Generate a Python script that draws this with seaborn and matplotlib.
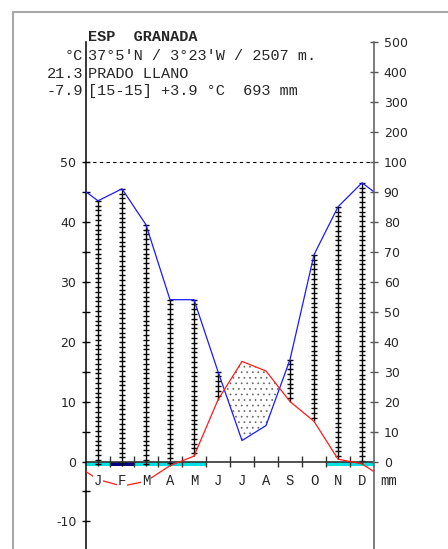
import numpy as np
import pandas as pd
import matplotlib
matplotlib.use("Agg")
import matplotlib.pyplot as plt
from matplotlib.lines import Line2D
import seaborn as sns

# Monthly climate data (Walter-Lieth diagram, Prado Llano)
months = ["J", "F", "M", "A", "M", "J", "J", "A", "S", "O", "N", "D"]
temp = [-3.0, -4.1, -3.3, -0.7, 0.9, 10.3, 16.7, 15.1, 10.0, 6.7, 0.4, -0.4]
prec = [87, 91, 79, 54, 54, 30, 7, 12, 34, 69, 85, 93]
frost_probable = [1, 1, 1, 1, 1, 0, 0, 0, 0, 0, 1, 1]
frost_certain = [0, 1, 0, 0, 0, 0, 0, 0, 0, 0, 0, 0]
left_ticks = [-10, 0, 10, 20, 30, 40, 50]
right_ticks = [0, 10, 20, 30, 40, 50, 60, 70, 80, 90, 100, 200, 300, 400, 500]

title = "ESP  GRANADA"
info_lines = ["37°5'N / 3°23'W / 2507 m.", "PRADO LLANO", "[15-15] +3.9 °C  693 mm"]
left_col = ["°C", "21.3", "-7.9"]


def mm_to_axis(mm):
    # 2 mm per degree up to 100 mm, compressed 1/10 above
    return mm / 2 if mm <= 100 else 50 + (mm - 100) / 20


sns.set_style("white")
plt.rcParams['font.family'] = ['DejaVu Sans']
plt.rcParams['hatch.linewidth'] = 0.5

W, H = 448, 549
fig = plt.figure(figsize=(W / 100, H / 100), dpi=100)
ax = fig.add_axes([86 / W, 0, 288 / W, (H - 42) / H])
ax.set_xlim(0, 12)
ax.set_ylim(-14.6, 70)

# data with wrap-around ends
xm = np.arange(12) + 0.5
t_arr = np.array(temp)
p_arr = np.array([mm_to_axis(v) for v in prec])
df = pd.DataFrame({
    "x": np.concatenate([[0], xm, [12]]),
    "temp": np.concatenate([[(t_arr[-1] + t_arr[0]) / 2], t_arr, [(t_arr[-1] + t_arr[0]) / 2]]),
    "prec": np.concatenate([[(p_arr[-1] + p_arr[0]) / 2], p_arr, [(p_arr[-1] + p_arr[0]) / 2]]),
})

# frost bars under zero line
for i in range(12):
    if frost_probable[i]:
        ax.bar(xm[i], -0.8, bottom=0, width=1.0, color="#00e0e0", linewidth=0, zorder=1)
    if frost_certain[i]:
        ax.bar(xm[i], -0.8, bottom=0, width=1.0, color="#000080", linewidth=0, zorder=1.1)

# arid period stippling
ax.fill_between(df["x"], df["prec"], df["temp"], where=df["temp"] > df["prec"],
                interpolate=True, facecolor="none", edgecolor="#666666",
                hatch="...", linewidth=0, zorder=1.5)

# humid period: vertical lines with crossbars
for i in range(12):
    if p_arr[i] > t_arr[i]:
        top = p_arr[i]
        bot = max(t_arr[i], -0.8)
        ax.vlines(xm[i], bot, top, color="black", lw=1.0, zorder=2)
        ys = np.arange(top, bot, -0.8)
        ax.plot([xm[i]] * len(ys), ys, ls="none", marker="_", ms=5, mew=1.0,
                color="black", zorder=2)

# reference lines
ax.axhline(50, color="black", lw=0.8, ls=(0, (3, 3)), zorder=1)
ax.axhline(0, color="#333333", lw=1.2, zorder=2.5)
ax.vlines(np.arange(1, 12), -0.9, 0.9, color="#333333", lw=1.0, zorder=2.5)

sns.lineplot(data=df, x="x", y="prec", color="#1a1aff", lw=0.9, ax=ax,
             estimator=None, sort=False, zorder=3)
sns.lineplot(data=df, x="x", y="temp", color="#ff1a1a", lw=0.9, ax=ax,
             estimator=None, sort=False, zorder=3)

# month labels
for i, m in enumerate(months):
    ax.text(xm[i], -3.95, m, ha="center", va="baseline", family="Liberation Mono",
            size=10, zorder=5,
            bbox=dict(facecolor="white", edgecolor="none", pad=0.5))
ax.text(12.25, -3.95, "mm", ha="left", va="baseline", family="Liberation Mono",
        size=10, clip_on=False)

# left axis
ax.set_xlabel("")
ax.set_ylabel("")
ax.set_xticks([])
ax.set_yticks(left_ticks)
ax.set_yticklabels([str(v) for v in left_ticks])
ax.set_yticks([-5, 5, 15, 25, 35, 45], minor=True)
ax.tick_params(axis="y", which="both", left=True, direction="inout", length=6,
               width=1.0, color="black", labelsize=9, pad=4)
for s in ["top", "bottom", "right"]:
    ax.spines[s].set_visible(False)
ax.spines["left"].set_color("black")
ax.spines["left"].set_linewidth(1.1)

# right axis in mm
ax2 = ax.twinx()
ax2.set_ylim(ax.get_ylim())
ax2.set_yticks([mm_to_axis(v) for v in right_ticks])
ax2.set_yticklabels([str(v) for v in right_ticks])
ax2.tick_params(axis="y", right=True, direction="inout", length=6, width=1.0,
                color="#555555", labelsize=9, pad=4)
for s in ["top", "bottom", "left"]:
    ax2.spines[s].set_visible(False)
ax2.spines["right"].set_color("#666666")
ax2.spines["right"].set_linewidth(1.2)
ax2.grid(False)
ax.grid(False)

# header text
fig.text(88 / W, 1 - 37 / H, title, family="Liberation Mono", weight="bold",
         size=11, va="center", ha="left")
for k, (lc, line) in enumerate(zip(left_col, info_lines)):
    yy = 1 - (56 + 17.5 * k) / H
    fig.text(83 / W, yy, lc, family="Liberation Mono", size=11, va="center", ha="right")
    fig.text(88 / W, yy, line, family="Liberation Mono", size=11, va="center", ha="left")

# window frame
fig.add_artist(Line2D([12.5 / W, 12.5 / W], [0, 1 - 12 / H], color="#a8a8a8", lw=1.5))
fig.add_artist(Line2D([12.5 / W, 1], [1 - 12 / H, 1 - 12 / H], color="#a8a8a8", lw=1.5))

fig.savefig("out.png", dpi=100)
